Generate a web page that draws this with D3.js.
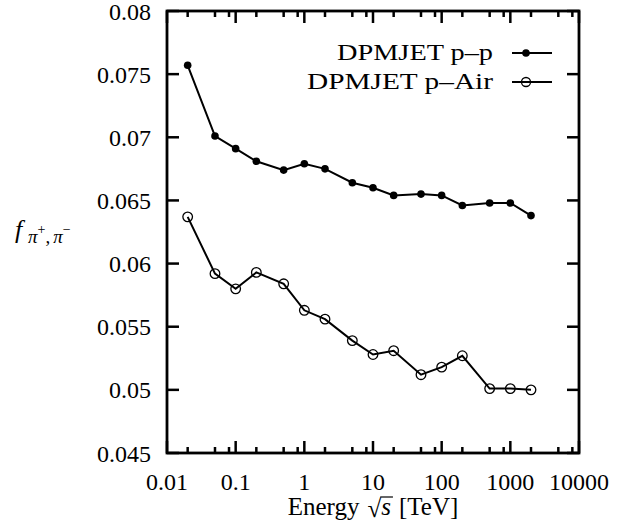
<!DOCTYPE html>
<html>
<head>
<meta charset="utf-8">
<script src="https://cdn.jsdelivr.net/npm/d3@7/dist/d3.min.js"></script>
<style>
html,body{margin:0;padding:0;background:#fff;}
svg{display:block;}
text{font-family:"Liberation Serif","Times New Roman",serif;fill:#000;white-space:pre;}
</style>
</head>
<body>
<svg id="chart" width="636" height="529"></svg>
<script>
const energies = [0.02, 0.05, 0.1, 0.2, 0.5, 1, 2, 5, 10, 20, 50, 100, 200, 500, 1000, 2000];
const ppValues = [0.0757, 0.0701, 0.0691, 0.0681, 0.0674, 0.0679, 0.0675, 0.0664, 0.0660, 0.0654, 0.0655, 0.0654, 0.0646, 0.0648, 0.0648, 0.0638];
const pAirValues = [0.0637, 0.0592, 0.0580, 0.0593, 0.0584, 0.0563, 0.0556, 0.0539, 0.0528, 0.0531, 0.0512, 0.0518, 0.0527, 0.0501, 0.0501, 0.0500];
const seriesNames = ["DPMJET p\u2013p", "DPMJET p\u2013Air"];
const xTickValues = [0.01, 0.1, 1, 10, 100, 1000, 10000];
const xTickLabels = ["0.01", "0.1", "1", "10", "100", "1000", "10000"];
const xMinorMultipliers = [2, 5, 8];
const yTickValues = [0.045, 0.05, 0.055, 0.06, 0.065, 0.07, 0.075, 0.08];
const yTickLabels = ["0.045", "0.05", "0.055", "0.06", "0.065", "0.07", "0.075", "0.08"];

const svg = d3.select("#chart");
const L = 167, R = 579, T = 11, B = 453;
const x = d3.scaleLog().domain([0.01, 10000]).range([L, R]);
const y = d3.scaleLinear().domain([0.045, 0.08]).range([B, T]);

const minorTicks = [];
xTickValues.slice(0, -1).forEach(d => xMinorMultipliers.forEach(m => minorTicks.push(d * m)));

const tickG = svg.append("g").attr("stroke", "#000").attr("stroke-width", 2.5);
xTickValues.forEach(v => {
  tickG.append("line").attr("x1", x(v)).attr("x2", x(v)).attr("y1", B).attr("y2", B - 12);
  tickG.append("line").attr("x1", x(v)).attr("x2", x(v)).attr("y1", T).attr("y2", T + 12);
});
minorTicks.forEach(v => {
  tickG.append("line").attr("x1", x(v)).attr("x2", x(v)).attr("y1", B).attr("y2", B - 6);
  tickG.append("line").attr("x1", x(v)).attr("x2", x(v)).attr("y1", T).attr("y2", T + 6);
});
yTickValues.forEach(v => {
  tickG.append("line").attr("x1", L).attr("x2", L + 12).attr("y1", y(v)).attr("y2", y(v));
  tickG.append("line").attr("x1", R).attr("x2", R - 12).attr("y1", y(v)).attr("y2", y(v));
});

svg.append("rect").attr("x", L).attr("y", T).attr("width", R - L).attr("height", B - T)
  .attr("fill", "none").attr("stroke", "#000").attr("stroke-width", 2.8);

svg.append("g").selectAll("text").data(xTickValues).join("text")
  .attr("x", d => x(d)).attr("y", 490).attr("text-anchor", "middle")
  .attr("font-size", 24).text((d, i) => xTickLabels[i]);
svg.append("g").selectAll("text").data(yTickValues).join("text")
  .attr("x", 151).attr("y", d => y(d) + 8.5).attr("text-anchor", "end")
  .attr("font-size", 24).text((d, i) => yTickLabels[i]);

const line = d3.line().x(d => x(d[0])).y(d => y(d[1]));
const ppData = energies.map((e, i) => [e, ppValues[i]]);
const airData = energies.map((e, i) => [e, pAirValues[i]]);
svg.append("path").datum(ppData).attr("d", line).attr("fill", "none").attr("stroke", "#000").attr("stroke-width", 2);
svg.append("path").datum(airData).attr("d", line).attr("fill", "none").attr("stroke", "#000").attr("stroke-width", 2);
svg.append("g").selectAll("circle").data(ppData).join("circle")
  .attr("cx", d => x(d[0])).attr("cy", d => y(d[1])).attr("r", 3.8).attr("fill", "#000");
svg.append("g").selectAll("circle").data(airData).join("circle")
  .attr("cx", d => x(d[0])).attr("cy", d => y(d[1])).attr("r", 4.8)
  .attr("fill", "none").attr("stroke", "#000").attr("stroke-width", 1.3);

const legY = [53, 82];
seriesNames.forEach((name, i) => {
  svg.append("text").attr("x", 493).attr("y", legY[i] + 7).attr("text-anchor", "end")
    .attr("font-size", 24).attr("textLength", i === 0 ? 156 : 186).attr("lengthAdjust", "spacingAndGlyphs").text(name);
  svg.append("line").attr("x1", 512).attr("x2", 552).attr("y1", legY[i]).attr("y2", legY[i])
    .attr("stroke", "#000").attr("stroke-width", 2);
  if (i === 0) {
    svg.append("circle").attr("cx", 526).attr("cy", legY[i]).attr("r", 3.8).attr("fill", "#000");
  } else {
    svg.append("circle").attr("cx", 526).attr("cy", legY[i]).attr("r", 4.5)
      .attr("fill", "none").attr("stroke", "#000").attr("stroke-width", 1.3);
  }
});

// x axis title: Energy √s [TeV]
const titleG = svg.append("g");
const t1 = titleG.append("text").attr("y", 515).attr("font-size", 25).text("Energy");
const w1 = t1.node().getComputedTextLength() + 8;
const t2 = titleG.append("text").attr("y", 517).attr("font-size", 25).text("\u221A");
const w2 = t2.node().getComputedTextLength();
const t3 = titleG.append("text").attr("y", 515).attr("font-size", 25).attr("font-style", "italic").text("s");
const w3 = t3.node().getComputedTextLength() + 1;
const t4 = titleG.append("text").attr("y", 515).attr("font-size", 25).text("[TeV]");
const w4 = t4.node().getComputedTextLength() + 7;
const total = w1 + w2 + w3 + w4;
const x0 = 373 - total / 2;
t1.attr("x", x0);
t2.attr("x", x0 + w1);
t3.attr("x", x0 + w1 + w2);
t4.attr("x", x0 + w1 + w2 + w3 + 7);
titleG.append("line").attr("x1", x0 + w1 + w2 - 1).attr("x2", x0 + w1 + w2 + w3 + 1)
  .attr("y1", 497).attr("y2", 497).attr("stroke", "#000").attr("stroke-width", 1.2);

// y axis title f_{π+,π−}
svg.append("text").attr("x", 15).attr("y", 238).attr("font-size", 26).attr("font-style", "italic").text("f");
const sub = svg.append("text").attr("x", 28).attr("y", 243).attr("font-size", 19);
sub.append("tspan").attr("font-style", "italic").text("\u03C0");
sub.append("tspan").attr("font-size", 14).attr("dy", -9).text("+");
sub.append("tspan").attr("dy", 9).text(",");
sub.append("tspan").attr("dx", 3).attr("font-style", "italic").text("\u03C0");
sub.append("tspan").attr("font-size", 14).attr("dy", -9).text("\u2212");
</script>
</body>
</html>
